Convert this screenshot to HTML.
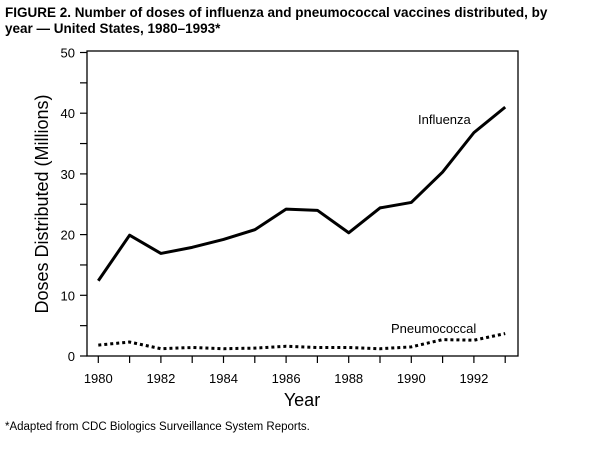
<!DOCTYPE html>
<html><head><meta charset="utf-8"><style>
body{margin:0;background:#fff;width:610px;height:445px;overflow:hidden;font-family:"Liberation Sans",Arial,sans-serif}
</style></head><body>
<svg width="610" height="445" xmlns="http://www.w3.org/2000/svg" font-family="Liberation Sans, Arial, sans-serif">
<text x="5" y="17" font-size="13.5" font-weight="bold">FIGURE 2. Number of doses of influenza and pneumococcal vaccines distributed, by</text>
<text x="5" y="33" font-size="13.5" font-weight="bold">year — United States, 1980–1993*</text>
<rect x="87" y="51" width="431" height="305" fill="none" stroke="#000" stroke-width="1.3"/>
<g id="yaxis"></g>
<g id="xaxis"></g>
<text transform="translate(48,204) rotate(-90)" text-anchor="middle" font-size="18">Doses Distributed (Millions)</text>
<text x="302" y="406" text-anchor="middle" font-size="18">Year</text>
<g id="series"></g>
<text x="418" y="124" font-size="13">Influenza</text>
<text x="391" y="333" font-size="13">Pneumococcal</text>
<text x="5" y="430" font-size="11.5">*Adapted from CDC Biologics Surveillance System Reports.</text>
</svg>
<script>
const years=[1980,1981,1982,1983,1984,1985,1986,1987,1988,1989,1990,1991,1992,1993];
const influenza=[12.4,19.9,16.9,17.9,19.2,20.8,24.2,24.0,20.3,24.4,25.3,30.3,36.8,41.0];
const pneumococcal=[1.8,2.3,1.2,1.4,1.2,1.3,1.6,1.4,1.4,1.2,1.5,2.7,2.6,3.7];
const yTicks=[0,10,20,30,40,50];
const xTickLabels=[1980,1982,1984,1986,1988,1990,1992];
const NS="http://www.w3.org/2000/svg";
const X=y=>98.3+(y-1980)*31.3;
const Y=v=>356-v*6.07;
function mk(t,a,p){const e=document.createElementNS(NS,t);for(const k in a)e.setAttribute(k,a[k]);p.appendChild(e);return e;}
const ya=document.getElementById('yaxis'),xa=document.getElementById('xaxis'),sg=document.getElementById('series');
for(let v=0;v<=50;v+=5){const l=mk('line',{x1:80,x2:87,y1:Y(v),y2:Y(v),stroke:'#000','stroke-width':1.2},ya);

}
yTicks.forEach(v=>{const t=mk('text',{x:75,y:Y(v)+5,'text-anchor':'end','font-size':13},ya);t.textContent=v;

});
years.forEach(y=>{const l=mk('line',{x1:X(y),x2:X(y),y1:356,y2:363,stroke:'#000','stroke-width':1.2},xa);

});
xTickLabels.forEach(y=>{const t=mk('text',{x:X(y),y:383,'text-anchor':'middle','font-size':13},xa);t.textContent=y;

});
const p1=mk('polyline',{points:years.map((y,i)=>X(y)+','+Y(influenza[i])).join(' '),fill:'none',stroke:'#000','stroke-width':3,'stroke-linejoin':'round'},sg);


const p2=mk('polyline',{points:years.map((y,i)=>X(y)+','+Y(pneumococcal[i])).join(' '),fill:'none',stroke:'#000','stroke-width':3,'stroke-dasharray':'3,3'},sg);


</script>
</body></html>
